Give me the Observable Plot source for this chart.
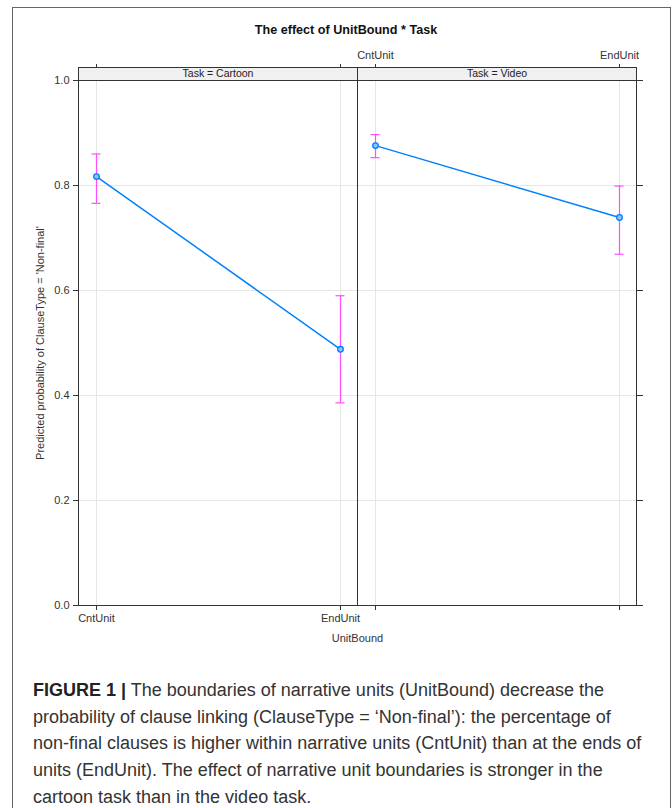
<!DOCTYPE html>
<html>
<head>
<meta charset="utf-8">
<script src="https://cdn.jsdelivr.net/npm/d3@7"></script>
<script src="https://cdn.jsdelivr.net/npm/@observablehq/plot@0.6"></script>
<style>
  html, body { margin: 0; padding: 0; background: #fff; }
  body { width: 672px; height: 808px; position: relative; overflow: hidden; font-family: "Liberation Sans", Arial, sans-serif; }
  #chart { position: absolute; left: 0; top: 0; }
  #border { position: absolute; left: 12px; top: 7px; width: 659px; height: 840px; border: 1.5px solid #666; box-sizing: border-box; pointer-events: none; }
  #title { position: absolute; top: 23px; left: 0; width: 692px; text-align: center; font-weight: bold; font-size: 12.6px; color: #111; }
  #caption { position: absolute; left: 33px; top: 677px; font-size: 18px; line-height: 26.7px; color: #333; white-space: nowrap; }
  #caption b { font-weight: bold; color: #222; }
</style>
</head>
<body>
<div id="chart"></div>
<div id="title">The effect of UnitBound * Task</div>
<div id="caption"><b>FIGURE 1 |</b> The boundaries of narrative units (UnitBound) decrease the<br>probability of clause linking (ClauseType = ‘Non-final’): the percentage of<br>non-final clauses is higher within narrative units (CntUnit) than at the ends of<br>units (EndUnit). The effect of narrative unit boundaries is stronger in the<br>cartoon task than in the video task.</div>
<div id="border"></div>
<script>
// ---- data ----
const taskLevels = ["Cartoon", "Video"];
const stripLabels = ["Task = Cartoon", "Task = Video"];
const unitLevels = ["CntUnit", "EndUnit"];

const tasks     = ["Cartoon", "Cartoon", "Video", "Video"];
const unitBound = ["CntUnit", "EndUnit", "CntUnit", "EndUnit"];
const prob      = [0.817, 0.488, 0.876, 0.739];
const lower     = [0.766, 0.386, 0.853, 0.669];
const upper     = [0.860, 0.590, 0.897, 0.799];

const yTicks = [0, 0.2, 0.4, 0.6, 0.8, 1.0];
const yLabel = "Predicted probability of ClauseType = 'Non-final'";
const xLabel = "UnitBound";

// ---- tables built from the arrays ----
const data = tasks.map((t, i) => ({Task: t, UnitBound: unitBound[i], prob: prob[i], lower: lower[i], upper: upper[i]}));
const strips = taskLevels.map((t, i) => ({Task: t, label: stripLabels[i]}));

const lineColor = "#0080ff";
const barColor = "#ff4dff";
const gridColor = "#e6e6e6";
const ink = "#333";

const capOpts = {fx: "Task", x1: "UnitBound", x2: "UnitBound", insetLeft: -4.5, insetRight: -4.5, stroke: barColor, strokeWidth: 1.2};

const chart = Plot.plot({
  width: 672,
  height: 650,
  marginLeft: 78,
  marginRight: 36,
  marginTop: 80,
  marginBottom: 45,
  style: {fontFamily: "Liberation Sans, Arial, sans-serif", fontSize: "11px", color: "#222", background: "transparent"},
  fx: {domain: taskLevels, padding: 0},
  x: {type: "point", domain: unitLevels, padding: 0.07},
  y: {domain: [0, 1]},
  marks: [
    Plot.gridY(yTicks, {stroke: gridColor, strokeOpacity: 1}),
    Plot.gridX({stroke: gridColor, strokeOpacity: 1}),
    Plot.axisY(yTicks, {anchor: "left", tickSize: 5, tickPadding: 4, tickFormat: ".1f", stroke: ink, fill: "#333",
      label: yLabel, labelAnchor: "center", labelOffset: 42, labelArrow: false, fontSize: 11}),
    Plot.axisY(yTicks, {anchor: "right", tickSize: 6, stroke: ink, fill: "none", label: null}),
    Plot.axisX({anchor: "bottom", tickSize: 5, stroke: ink, fill: "none", label: null}),
    Plot.axisX({anchor: "bottom", facetAnchor: "left", tickSize: 0, tickPadding: 9, stroke: "none", fill: "#333", label: null, fontSize: 11}),
    Plot.axisX({anchor: "top", tickSize: 17, stroke: ink, fill: "none", label: null}),
    Plot.axisX({anchor: "top", facetAnchor: "right", tickSize: 0, tickPadding: 22, stroke: "none", fill: "#333", label: null, fontSize: 11}),
    Plot.axisFx({anchor: "bottom", tickSize: 0, tickFormat: () => "", fill: "#333", label: xLabel, labelAnchor: "center", labelOffset: 36, labelArrow: false, fontSize: 11}),
    Plot.frame({stroke: ink}),
    Plot.frame({fill: "#f0f0f0", stroke: ink, insetTop: -13, insetBottom: 525}),
    Plot.text(strips, {fx: "Task", text: "label", frameAnchor: "top", lineAnchor: "middle", dy: -6.5, fontSize: 10.5, fill: "#222"}),
    Plot.ruleX(data, {fx: "Task", x: "UnitBound", y1: "lower", y2: "upper", stroke: barColor, strokeWidth: 1.2}),
    Plot.ruleY(data, {...capOpts, y: "lower"}),
    Plot.ruleY(data, {...capOpts, y: "upper"}),
    Plot.line(data, {fx: "Task", x: "UnitBound", y: "prob", stroke: lineColor, strokeWidth: 1.5}),
    Plot.dot(data, {fx: "Task", x: "UnitBound", y: "prob", r: 2.8, stroke: lineColor, fill: "#8cc4ff", strokeWidth: 1.3})
  ]
});
document.getElementById("chart").appendChild(chart);
</script>
</body>
</html>
